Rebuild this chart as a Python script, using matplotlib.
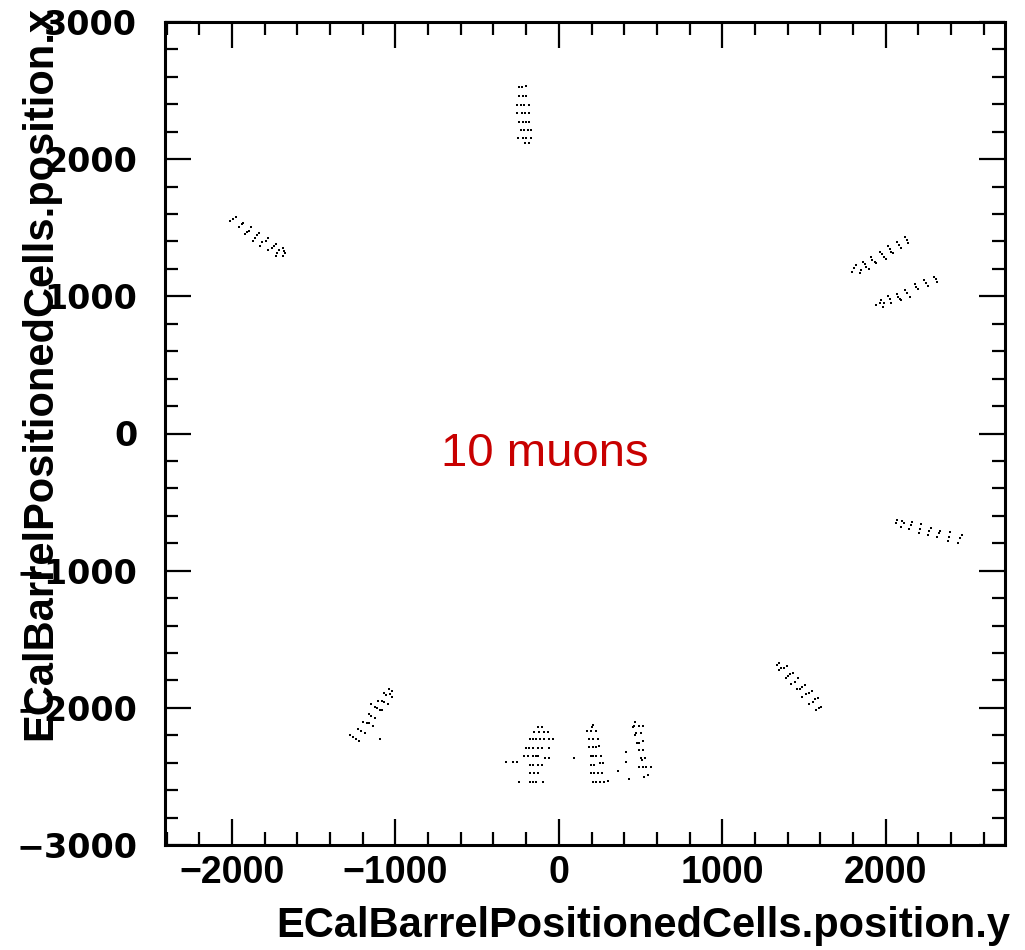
import matplotlib
matplotlib.use('Agg')
import matplotlib.pyplot as plt
from matplotlib.ticker import MultipleLocator

plt.rcParams['font.weight'] = 'bold'
plt.rcParams['axes.unicode_minus'] = True

# ---- data: ECalBarrelPositionedCells (horizontal = position.y, vertical = position.x)
top_py = [-245, -226, -198, -245, -222, -198, -255, -234, -212, -185, -255, -228, -208, -185,
          -245, -222, -198, -183, -234, -212, -188, -173, -250, -222, -198, -173, -208, -183]
top_px = [2528, 2528, 2533, 2462, 2462, 2462, 2394, 2394, 2394, 2394, 2334, 2334, 2334, 2334,
          2268, 2268, 2268, 2268, 2212, 2212, 2212, 2212, 2152, 2152, 2152, 2152, 2115, 2115]

ul_py = [-2012, -1996, -1977, -1955, -1941, -1931, -1921, -1906, -1894, -1886, -1870, -1859, -1849, -1837,
         -1829, -1815, -1794, -1778, -1778, -1757, -1743, -1731, -1731, -1723, -1711, -1690, -1690, -1676, -1682]
ul_px = [1551, 1563, 1576, 1507, 1525, 1537, 1452, 1467, 1478, 1507, 1405, 1423, 1447, 1464,
         1367, 1394, 1405, 1423, 1338, 1354, 1369, 1383, 1296, 1313, 1338, 1350, 1296, 1313, 1332]

ur1_py = [1794, 1806, 1821, 1841, 1851, 1861, 1871, 1882, 1896, 1908, 1919, 1933, 1943, 1963, 1975, 1988, 2000,
          2014, 2024, 2035, 2045, 2069, 2081, 2092, 2116, 2130, 2139]
ur1_px = [1179, 1204, 1228, 1172, 1192, 1252, 1233, 1216, 1199, 1284, 1265, 1248, 1241, 1325, 1308, 1289, 1270,
          1367, 1343, 1325, 1313, 1394, 1374, 1354, 1435, 1410, 1391]

ur2_py = [1943, 1963, 1974, 1984, 1988, 2014, 2024, 2035, 2069, 2075, 2086, 2096, 2116, 2130, 2147,
          2177, 2188, 2198, 2232, 2245, 2259, 2294, 2306, 2314]
ur2_px = [937, 953, 973, 920, 949, 1002, 978, 953, 1017, 997, 980, 973, 1046, 1026, 993,
          1090, 1070, 1051, 1119, 1099, 1077, 1143, 1124, 1104]

mr_py = [2061, 2071, 2096, 2102, 2110, 2142, 2153, 2163, 2202, 2208, 2218, 2259, 2265, 2279,
         2316, 2324, 2330, 2381, 2387, 2396, 2442, 2453, 2465]
mr_px = [-655, -631, -679, -636, -650, -698, -667, -647, -727, -698, -662, -740, -708, -687,
         -757, -727, -711, -781, -752, -716, -796, -764, -740]

lr_py = [1335, 1346, 1347, 1362, 1376, 1396, 1387, 1403, 1413, 1433, 1419, 1443, 1464, 1458, 1474, 1490, 1505,
         1490, 1511, 1531, 1552, 1532, 1555, 1566, 1586, 1572, 1590, 1607]
lr_px = [-1687, -1671, -1724, -1711, -1711, -1695, -1784, -1768, -1753, -1744, -1826, -1809, -1784, -1865, -1865,
         -1850, -1833, -1918, -1899, -1889, -1877, -1972, -1959, -1937, -1930, -2015, -2003, -1991]

ll_py = [-1038, -1023, -1070, -1058, -1034, -1023, -1105, -1083, -1070, -1044, -1150, -1125, -1115, -1095, -1083,
         -1162, -1150, -1127, -1197, -1176, -1160, -1140, -1231, -1211, -1187, -1278, -1258, -1243, -1221, -1095]
ll_px = [-1865, -1877, -1894, -1906, -1901, -1918, -1948, -1948, -1959, -1972, -1974, -1991, -2003, -2015, -2015,
         -2045, -2057, -2072, -2101, -2112, -2112, -2130, -2156, -2168, -2181, -2198, -2214, -2227, -2239, -2227]

bl_py = [-126, -106, -151, -124, -90, -69, -177, -157, -141, -116, -90, -59, -35,
         -202, -181, -157, -130, -106, -59, -212, -188, -161, -137, -126, -82, -59,
         -326, -279, -255, -177, -157, -130, -106, -177, -151, -126, -243, -177, -157, -137, -96]
bl_px = [-2142, -2142, -2178, -2178, -2178, -2178, -2227, -2227, -2227, -2227, -2227, -2227, -2227,
         -2295, -2295, -2295, -2295, -2295, -2295, -2351, -2351, -2351, -2351, -2351, -2363, -2363,
         -2392, -2392, -2392, -2419, -2419, -2419, -2419, -2475, -2475, -2475, -2542, -2542, -2542, -2542, -2542]

bm_py = [210, 200, 175, 196, 230, 185, 206, 241, 185, 210, 230, 245, 196, 210, 230, 255, 94,
         251, 271, 196, 216, 196, 216, 241, 267, 206, 226, 251, 277, 302]
bm_px = [-2125, -2142, -2168, -2168, -2168, -2227, -2227, -2227, -2283, -2283, -2283, -2275, -2351, -2351, -2351,
         -2351, -2363, -2404, -2404, -2419, -2419, -2475, -2475, -2475, -2475, -2542, -2542, -2542, -2542, -2535]

br_py = [465, 459, 489, 516, 455, 475, 502, 465, 512, 481, 491, 491, 516, 408, 502, 530, 510, 408,
         489, 516, 536, 561, 361, 546, 522, 430]
br_px = [-2101, -2133, -2133, -2133, -2142, -2185, -2185, -2198, -2239, -2254, -2254, -2307, -2307, -2324,
         -2368, -2368, -2380, -2392, -2433, -2433, -2433, -2433, -2460, -2489, -2502, -2518]

clusters = [(top_py, top_px), (ul_py, ul_px), (ur1_py, ur1_px), (ur2_py, ur2_px), (mr_py, mr_px),
            (lr_py, lr_px), (ll_py, ll_px), (bl_py, bl_px), (bm_py, bm_px), (br_py, br_px)]

x_ticks = [-2000, -1000, 0, 1000, 2000]
y_ticks = [-3000, -2000, -1000, 0, 1000, 2000, 3000]
x_label = 'ECalBarrelPositionedCells.position.y'
y_label = 'ECalBarrelPositionedCells.position.x'
annotation = '10 muons'

# ---- figure
fig = plt.figure(figsize=(10.25, 9.5), dpi=100)
ax = fig.add_axes([165/1025, 105/950, 840/1025, 823/950])

for ys, xs in clusters:
    ax.scatter(ys, xs, s=4, marker='s', c='black', linewidths=0)

ax.set_xlim(-2410, 2730)
ax.set_ylim(-3000, 3000)
ax.set_xticks(x_ticks)
ax.set_yticks(y_ticks)
ax.xaxis.set_minor_locator(MultipleLocator(200))
ax.yaxis.set_minor_locator(MultipleLocator(200))

for sp in ax.spines.values():
    sp.set_linewidth(2.2)

ax.tick_params(which='both', direction='in', top=True, right=True, width=1.6, color='black')
ax.tick_params(which='major', length=18.7)
ax.tick_params(which='minor', length=9.4)
ax.tick_params(axis='x', which='major', labelsize=27, pad=7, labelfontfamily='Liberation Sans')
ax.tick_params(axis='y', which='major', labelsize=24, pad=20, labelfontfamily='DejaVu Sans')

fig.text(1010/1025, 1 - 937/950, x_label, ha='right', va='baseline', fontsize=30,
         fontweight='bold', family='Liberation Sans')
fig.text(40/1025, 1 - 6/950, y_label, ha='center', va='top', rotation=90, fontsize=30,
         fontweight='bold', family='Liberation Sans')

ax.text(-722, -237, annotation, ha='left', va='baseline', fontsize=34, fontweight='normal',
        family='Liberation Sans', color='#c80000')

fig.savefig('out.png', dpi=100)
